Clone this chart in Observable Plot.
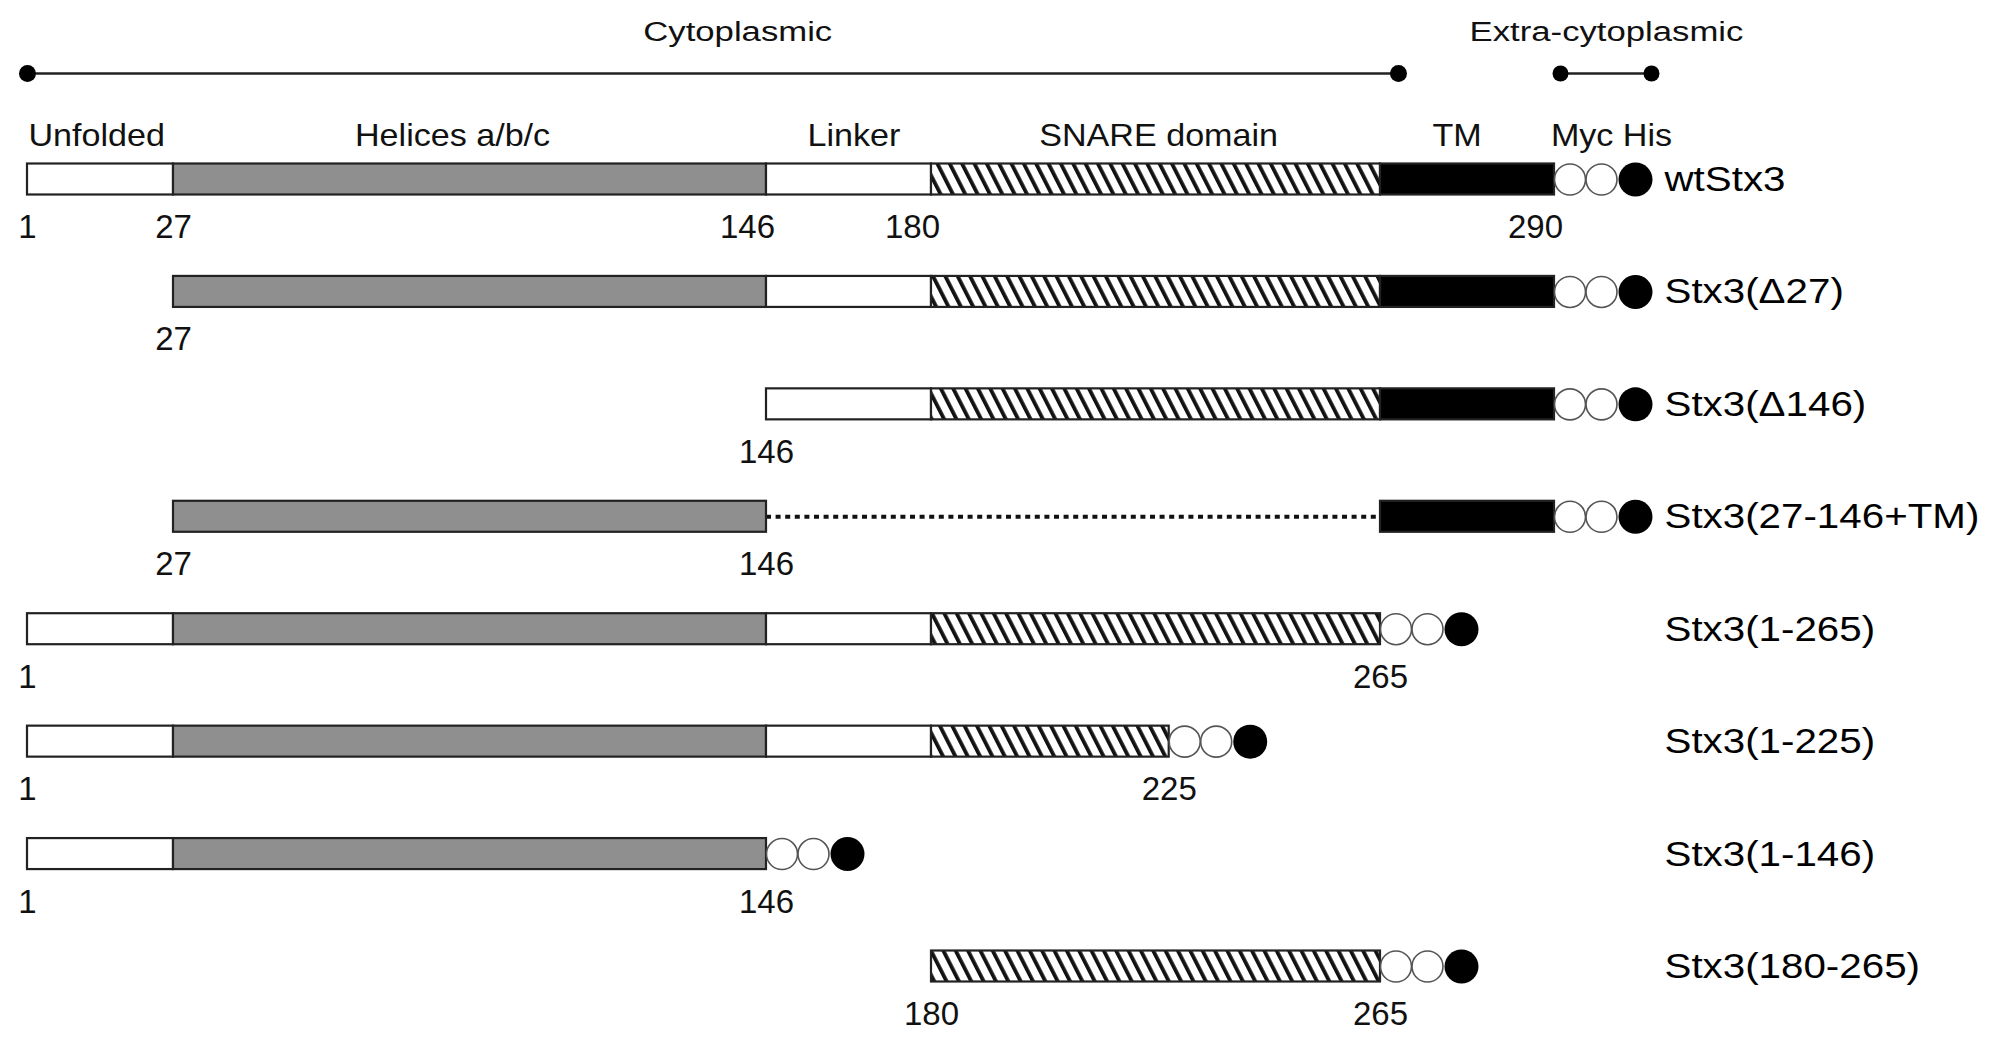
<!DOCTYPE html>
<html><head><meta charset="utf-8">
<script src="https://cdn.jsdelivr.net/npm/d3@7"></script>
<script src="https://cdn.jsdelivr.net/npm/@observablehq/plot@0.6"></script>
<style>
body{margin:0;background:#fff}
svg{display:block}
</style>
</head><body>
<svg width="0" height="0" style="position:absolute">
  <defs>
    <pattern id="hatch" patternUnits="userSpaceOnUse" width="11" height="11" patternTransform="rotate(-27)">
      <rect width="11" height="11" fill="#fff"/>
      <rect x="0" y="0" width="3.8" height="11" fill="#111"/>
    </pattern>
  </defs>
</svg>
<div id="chart"></div>
<script>
// ---- data ----
const constructs = ["wtStx3","Stx3(\u039427)","Stx3(\u0394146)","Stx3(27-146+TM)","Stx3(1-265)","Stx3(1-225)","Stx3(1-146)","Stx3(180-265)"];
const constructStart = [1, 27, 146, 27, 1, 1, 1, 180];
const constructEnd   = [290, 290, 290, 290, 265, 225, 146, 265];
const deletedIn   = ["Stx3(27-146+TM)"];
const deletedFrom = [146];
const deletedTo   = [265];
const numberLabels = [[1,27,146,180,290],[27],[146],[27,146],[1,265],[1,225],[1,146],[180,265]];
const domains     = ["Unfolded","Helices a/b/c","Linker","SNARE domain","TM"];
const domainStart = [1, 27, 146, 180, 265];
const domainEnd   = [27, 146, 180, 265, 290];
const domainLabelAt = [1, 83, 164, 223, 276];
const domainFill  = ["#ffffff","#8f8f8f","#ffffff","url(#hatch)","#000000"];
const regionNames = ["Cytoplasmic","Extra-cytoplasmic"];
const tagLabel = "Myc His";

// ---- derived tables ----
const segments = [];
constructs.forEach((c, i) => {
  domains.forEach((d, j) => {
    let s = Math.max(constructStart[i], domainStart[j]);
    let e = Math.min(constructEnd[i], domainEnd[j]);
    const k = deletedIn.indexOf(c);
    if (k >= 0 && s >= deletedFrom[k] && e <= deletedTo[k]) return;
    if (e > s) segments.push({construct: c, start: s, end: e, domain: d});
  });
});
const ends = constructs.map((c, i) => ({construct: c, end: constructEnd[i]}));
const deleted = deletedIn.map((c, i) => ({construct: c, from: deletedFrom[i], to: deletedTo[i]}));
const nums = [];
constructs.forEach((c, i) => numberLabels[i].forEach(v => nums.push({construct: c, pos: v, label: String(v), first: i === 0 && v >= 146})));
const headers = domains.map((d, j) => ({name: d, at: domainLabelAt[j]}));
const topRow = constructs[0];
const F = "Liberation Sans, Arial, sans-serif";

const marks = [];
// top region lines
marks.push(Plot.ruleY([topRow], {y: d => d, x1: 1, x2: 265, dy: -106, insetRight: -18, stroke: "#222", strokeWidth: 2.5}));
marks.push(Plot.dot([1], {x: d => d, y: () => topRow, dy: -106, r: 8.5, fill: "#000"}));
marks.push(Plot.dot([265], {x: d => d, y: () => topRow, dy: -106, dx: 18, r: 8.5, fill: "#000"}));
marks.push(Plot.ruleY([topRow], {y: d => d, x1: 290, x2: 290, dy: -106, insetLeft: 6, insetRight: -97, stroke: "#222", strokeWidth: 2.5}));
marks.push(Plot.dot([290], {x: d => d, y: () => topRow, dy: -106, dx: 6, r: 8, fill: "#000"}));
marks.push(Plot.dot([290], {x: d => d, y: () => topRow, dy: -106, dx: 97, r: 8, fill: "#000"}));
marks.push(Plot.text([regionNames[0]], {x: () => 133, y: () => topRow, dy: -147, dx: 36, text: d => d, fontSize: 28, fill: "#111", ariaDescription: "title"}));
marks.push(Plot.text([regionNames[1]], {x: () => 290, y: () => topRow, dy: -147, dx: 52, text: d => d, fontSize: 28, fill: "#111", ariaDescription: "title"}));
// header labels
marks.push(Plot.text(headers.slice(0, 1), {x: "at", y: () => topRow, dy: -43, dx: 1, text: "name", textAnchor: "start", fontSize: 31, fill: "#111", ariaDescription: "hdr"}));
marks.push(Plot.text(headers.slice(1), {x: "at", y: () => topRow, dy: -43, text: "name", fontSize: 31, fill: "#111", ariaDescription: "hdr"}));
marks.push(Plot.text([tagLabel], {x: () => 290, y: () => topRow, dy: -43, dx: 57, text: d => d, fontSize: 31, fill: "#111", ariaDescription: "hdr"}));
// dotted deletion
marks.push(Plot.ruleY(deleted, {y: "construct", x1: "from", x2: "to", stroke: "#111", strokeWidth: 4, strokeDasharray: "5,4.6"}));
// domain bars
domains.forEach((d, j) => {
  marks.push(Plot.barX(segments.filter(s => s.domain === d), {x1: "start", x2: "end", y: "construct", fill: domainFill[j], stroke: "#222", strokeWidth: 2.2}));
});
// tags
marks.push(Plot.dot(ends, {x: "end", y: "construct", dx: 15.5, r: 15.5, fill: "#fff", stroke: "#555", strokeWidth: 1.6}));
marks.push(Plot.dot(ends, {x: "end", y: "construct", dx: 47, r: 15.5, fill: "#fff", stroke: "#555", strokeWidth: 1.6}));
marks.push(Plot.dot(ends, {x: "end", y: "construct", dx: 81, r: 17, fill: "#000"}));
// number labels
marks.push(Plot.text(nums.filter(n => !n.first), {x: "pos", y: "construct", text: "label", dy: 48, fontSize: 33, fill: "#111", ariaDescription: "num"}));
marks.push(Plot.text(nums.filter(n => n.first), {x: "pos", y: "construct", text: "label", dy: 48, dx: -19, fontSize: 33, fill: "#111", ariaDescription: "num"}));
// construct names
marks.push(Plot.text(constructs, {x: () => 290, y: d => d, text: d => d, dx: 110, textAnchor: "start", fontSize: 36, fill: "#000", ariaDescription: "name"}));

const chart = Plot.plot({
  width: 1997,
  height: 1039,
  margin: 0,
  style: {fontFamily: F, background: "#fff"},
  x: {type: "linear", domain: [1, 27, 146, 180, 265, 290], range: [27, 173, 766, 931, 1380, 1554], axis: null},
  y: {type: "band", domain: constructs, range: [163.5, 981.5], paddingInner: 0.7243, paddingOuter: 0, round: false, axis: null},
  marks
});
document.getElementById("chart").appendChild(chart);

// horizontal stretch of text to match the original typeface proportions
const stretch = {title: 1.24, hdr: 1.1, name: 1.12, num: 1.0};
Object.entries(stretch).forEach(([k, s]) => {
  d3.select(chart).selectAll(`g[aria-description="${k}"] text`).each(function () {
    const t = this.getAttribute("transform") || "";
    this.setAttribute("transform", t + ` scale(${s},1)`);
  });
});
</script>
</body></html>
